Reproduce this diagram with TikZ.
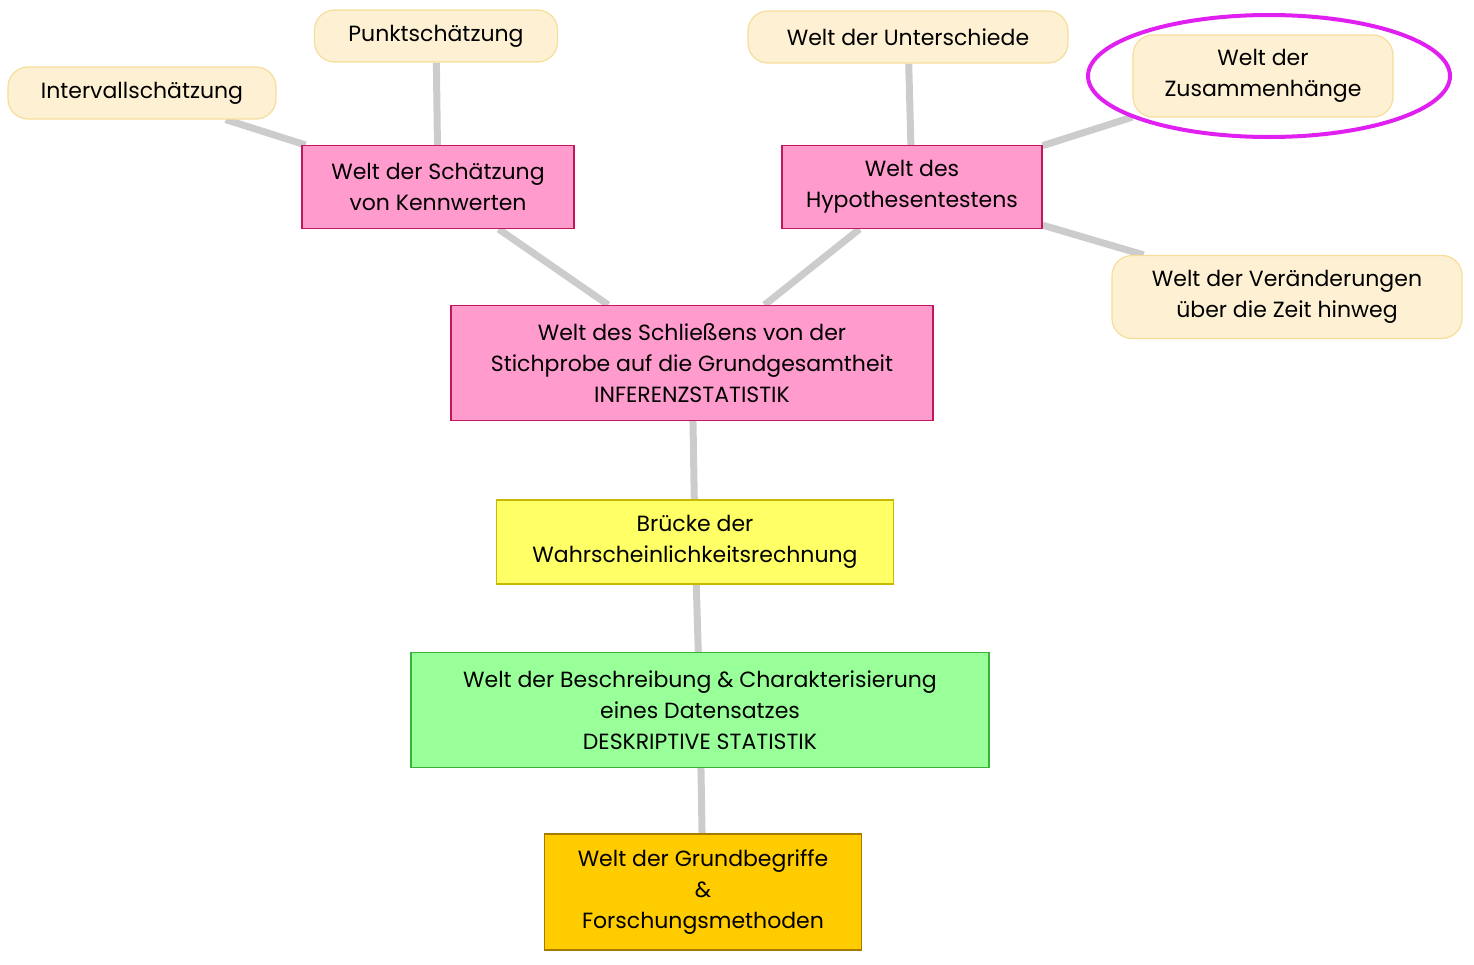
\documentclass[tikz,border=0pt]{standalone}
\usepackage{fontspec}
\setmainfont{Poppins}
\usetikzlibrary{backgrounds}
\definecolor{pinkf}{HTML}{FF9BCD}\definecolor{pinkd}{HTML}{C2185B}
\definecolor{creamf}{HTML}{FEF1D3}\definecolor{creamd}{HTML}{F6DE9A}
\definecolor{yelf}{HTML}{FFFF66}\definecolor{yeld}{HTML}{C9B800}
\definecolor{grnf}{HTML}{99FF99}\definecolor{grnd}{HTML}{3BB03B}
\definecolor{orf}{HTML}{FFCC00}\definecolor{ord}{HTML}{A87A00}
\definecolor{conn}{HTML}{CCCCCC}\definecolor{mag}{HTML}{E020F0}
\begin{document}
\begin{tikzpicture}[x=1pt,y=-1pt,
  every node/.style={font=\fontsize{22}{31}\selectfont,align=center,inner sep=0pt},
  boxn/.style={draw,line width=1.2pt,rectangle},
  leaf/.style={draw=creamd,fill=creamf,line width=1.2pt,rounded corners=20pt},
  conn/.style={draw=conn,line width=7pt}]
\useasboundingbox (0,0) rectangle (1474,964);
\node[leaf,minimum width=268pt,minimum height=52pt] (iv) at (142,93) {Intervallschätzung};
\node[leaf,minimum width=243pt,minimum height=52pt] (pk) at (436,36) {Punktschätzung};
\node[leaf,minimum width=320pt,minimum height=52pt] (us) at (908,37) {Welt der Unterschiede};
\node[leaf,minimum width=260pt,minimum height=82pt] (zh) at (1263,76) {Welt der\\Zusammenhänge};
\node[leaf,minimum width=350pt,minimum height=83pt] (vz) at (1287,297) {Welt der Veränderungen\\über die Zeit hinweg};
\node[boxn,draw=pinkd,fill=pinkf,minimum width=272pt,minimum height=83pt] (sk) at (438,187) {Welt der Schätzung\\von Kennwerten};
\node[boxn,draw=pinkd,fill=pinkf,minimum width=260pt,minimum height=83pt] (ht) at (912,187) {Welt des\\Hypothesentestens};
\node[boxn,draw=pinkd,fill=pinkf,minimum width=482pt,minimum height=115pt] (inf) at (692,363) {Welt des Schließens von der\\Stichprobe auf die Grundgesamtheit\\INFERENZSTATISTIK};
\node[boxn,draw=yeld,fill=yelf,minimum width=397pt,minimum height=84pt] (br) at (695,542) {Brücke der\\Wahrscheinlichkeitsrechnung};
\node[boxn,draw=grnd,fill=grnf,minimum width=578pt,minimum height=115pt] (ds) at (700,710) {Welt der Beschreibung \& Charakterisierung\\eines Datensatzes\\DESKRIPTIVE STATISTIK};
\node[boxn,draw=ord,fill=orf,minimum width=317pt,minimum height=116pt] (gb) at (703,892) {Welt der Grundbegriffe\\\&\\Forschungsmethoden};
\draw[mag,line width=4pt] (1269,76) ellipse [x radius=181pt, y radius=61pt];
\begin{pgfonlayer}{background}
\draw[conn] (inf) -- (sk);
\draw[conn] (inf) -- (ht);
\draw[conn] (sk) -- (iv);
\draw[conn] (sk) -- (pk);
\draw[conn] (ht) -- (us);
\draw[conn] (ht) -- (zh);
\draw[conn] (ht) -- (vz);
\draw[conn] (inf) -- (br);
\draw[conn] (br) -- (ds);
\draw[conn] (ds) -- (gb);
\end{pgfonlayer}
\end{tikzpicture}
\end{document}
